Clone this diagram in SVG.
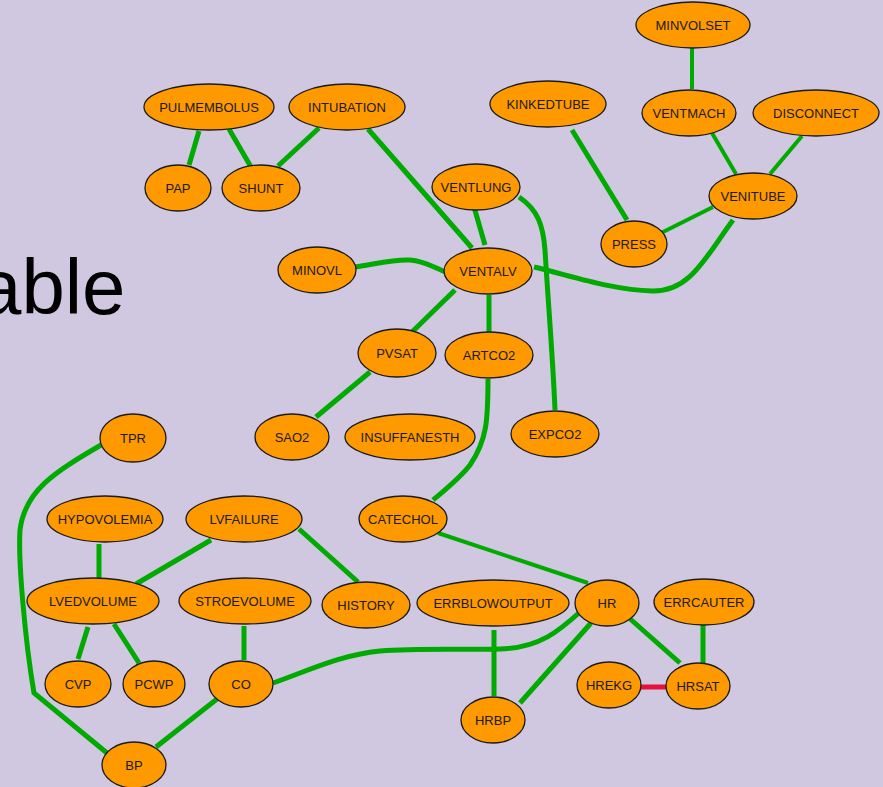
<svg xmlns="http://www.w3.org/2000/svg" width="883" height="787" viewBox="0 0 883 787">
  <style>
    .bg { fill: #cfc8e0; }
    .node ellipse { fill: #ff9900; stroke: #1a1a1a; stroke-width: 1.3; }
    .node text { font-family: "Liberation Sans", Arial, sans-serif; font-size: 13px; fill: #1a1a1a; text-anchor: middle; }
    .edges path { fill: none; stroke: #00aa00; stroke-width: 5; stroke-linecap: butt; }
    .edges path.thin { stroke-width: 4; }
    .edges path.neg { stroke: #e8103c; }
    .title { font-family: "Liberation Sans", Arial, sans-serif; font-size: 78px; fill: #000; }
  </style>

  <rect class="bg" x="0" y="0" width="883" height="787"/>

  <!-- slide heading, partly off the left edge -->
  <text class="title" x="-22" y="314">able</text>

  <g id="edges" class="edges">
    <path d="M199,131 L189,165"/>
    <path d="M229,129 L251,167"/>
    <path d="M319,128 L278,166"/>
    <path d="M368,129 L472,248"/>
    <path class="thin" d="M692,48 L692,89"/>
    <path d="M572,130 L627,220"/>
    <path class="thin" d="M712,133 L736,174"/>
    <path class="thin" d="M802,136 L770,174"/>
    <path class="thin" d="M661,233 L713,207"/>
    <path d="M733,220 C705,258 690,292 652,291 C612,290 572,276 534,267"/>
    <path d="M474,207 L485,245"/>
    <path d="M519,197 C538,210 543,225 545,250 C548,300 553,360 555,410"/>
    <path d="M355,267 C380,263 395,259 410,260 C425,261 435,268 446,272"/>
    <path d="M455,290 L412,332"/>
    <path d="M489,295 L489,333"/>
    <path d="M370,372 L316,417"/>
    <path d="M488,379 C488,420 487,440 470,465 C460,478 445,490 433,500"/>
    <path class="thin" d="M438,533 L588,583"/>
    <path d="M101,445 C55,472 25,490 20,530 C18,560 25,640 34,693 L107,753"/>
    <path d="M99,544 L99,578"/>
    <path d="M211,540 L136,584"/>
    <path d="M299,529 L358,582"/>
    <path d="M88,627 L78,659"/>
    <path d="M114,624 L139,663"/>
    <path d="M244,626 L244,660"/>
    <path d="M217,699 L156,747"/>
    <path d="M273,683 C310,670 340,655 380,651 C420,648 460,650 500,649 C540,648 560,630 580,612"/>
    <path d="M494,630 L494,696"/>
    <path d="M591,623 L520,703"/>
    <path d="M628,617 L680,663"/>
    <path d="M703,625 L703,663"/>
    <path class="neg" d="M641,687 L667,687"/>
  </g>

  <g id="PULMEMBOLUS" class="node"><ellipse cx="209" cy="107" rx="65" ry="23"/><text x="209" y="112">PULMEMBOLUS</text></g>
  <g id="INTUBATION" class="node"><ellipse cx="347" cy="107" rx="58" ry="23"/><text x="347" y="112">INTUBATION</text></g>
  <g id="PAP" class="node"><ellipse cx="178" cy="188" rx="33" ry="23"/><text x="178" y="193">PAP</text></g>
  <g id="SHUNT" class="node"><ellipse cx="261" cy="188" rx="39" ry="23"/><text x="261" y="193">SHUNT</text></g>
  <g id="MINVOLSET" class="node"><ellipse cx="693" cy="25" rx="57" ry="23"/><text x="693" y="30">MINVOLSET</text></g>
  <g id="KINKEDTUBE" class="node"><ellipse cx="548" cy="104" rx="58" ry="23"/><text x="548" y="109">KINKEDTUBE</text></g>
  <g id="VENTMACH" class="node"><ellipse cx="689" cy="113" rx="47" ry="23"/><text x="689" y="118">VENTMACH</text></g>
  <g id="DISCONNECT" class="node"><ellipse cx="816" cy="113" rx="63" ry="23"/><text x="816" y="118">DISCONNECT</text></g>
  <g id="VENTLUNG" class="node"><ellipse cx="476" cy="187" rx="44" ry="23"/><text x="476" y="192">VENTLUNG</text></g>
  <g id="VENITUBE" class="node"><ellipse cx="753" cy="196" rx="44" ry="23"/><text x="753" y="201">VENITUBE</text></g>
  <g id="PRESS" class="node"><ellipse cx="634" cy="244" rx="33" ry="23"/><text x="634" y="249">PRESS</text></g>
  <g id="MINOVL" class="node"><ellipse cx="317" cy="270" rx="39" ry="23"/><text x="317" y="275">MINOVL</text></g>
  <g id="VENTALV" class="node"><ellipse cx="488" cy="271" rx="44" ry="23"/><text x="488" y="276">VENTALV</text></g>
  <g id="PVSAT" class="node"><ellipse cx="397" cy="353" rx="39" ry="24"/><text x="397" y="358">PVSAT</text></g>
  <g id="ARTCO2" class="node"><ellipse cx="489" cy="355" rx="44" ry="23"/><text x="489" y="360">ARTCO2</text></g>
  <g id="TPR" class="node"><ellipse cx="133" cy="438" rx="33" ry="24"/><text x="133" y="443">TPR</text></g>
  <g id="SAO2" class="node"><ellipse cx="292" cy="437" rx="37" ry="23"/><text x="292" y="442">SAO2</text></g>
  <g id="INSUFFANESTH" class="node"><ellipse cx="410" cy="437" rx="65" ry="23"/><text x="410" y="442">INSUFFANESTH</text></g>
  <g id="EXPCO2" class="node"><ellipse cx="555" cy="434" rx="44" ry="23"/><text x="555" y="439">EXPCO2</text></g>
  <g id="HYPOVOLEMIA" class="node"><ellipse cx="105" cy="519" rx="58" ry="23"/><text x="105" y="524">HYPOVOLEMIA</text></g>
  <g id="LVFAILURE" class="node"><ellipse cx="244" cy="519" rx="58" ry="23"/><text x="244" y="524">LVFAILURE</text></g>
  <g id="CATECHOL" class="node"><ellipse cx="403" cy="519" rx="44" ry="23"/><text x="403" y="524">CATECHOL</text></g>
  <g id="LVEDVOLUME" class="node"><ellipse cx="93" cy="601" rx="66" ry="23"/><text x="93" y="606">LVEDVOLUME</text></g>
  <g id="STROEVOLUME" class="node"><ellipse cx="245" cy="601" rx="66" ry="23"/><text x="245" y="606">STROEVOLUME</text></g>
  <g id="HISTORY" class="node"><ellipse cx="366" cy="605" rx="44" ry="23"/><text x="366" y="610">HISTORY</text></g>
  <g id="ERRBLOWOUTPUT" class="node"><ellipse cx="493" cy="603" rx="76" ry="23"/><text x="493" y="608">ERRBLOWOUTPUT</text></g>
  <g id="HR" class="node"><ellipse cx="607" cy="603" rx="32" ry="23"/><text x="607" y="608">HR</text></g>
  <g id="ERRCAUTER" class="node"><ellipse cx="704" cy="602" rx="50" ry="23"/><text x="704" y="607">ERRCAUTER</text></g>
  <g id="CVP" class="node"><ellipse cx="78" cy="684" rx="33" ry="23"/><text x="78" y="689">CVP</text></g>
  <g id="PCWP" class="node"><ellipse cx="154" cy="684" rx="31" ry="23"/><text x="154" y="689">PCWP</text></g>
  <g id="CO" class="node"><ellipse cx="241" cy="684" rx="32" ry="23"/><text x="241" y="689">CO</text></g>
  <g id="HREKG" class="node"><ellipse cx="609" cy="685" rx="32" ry="23"/><text x="609" y="690">HREKG</text></g>
  <g id="HRSAT" class="node"><ellipse cx="698" cy="686" rx="32" ry="23"/><text x="698" y="691">HRSAT</text></g>
  <g id="HRBP" class="node"><ellipse cx="493" cy="720" rx="32" ry="23"/><text x="493" y="725">HRBP</text></g>
  <g id="BP" class="node"><ellipse cx="134" cy="765" rx="32" ry="23"/><text x="134" y="770">BP</text></g>
</svg>
